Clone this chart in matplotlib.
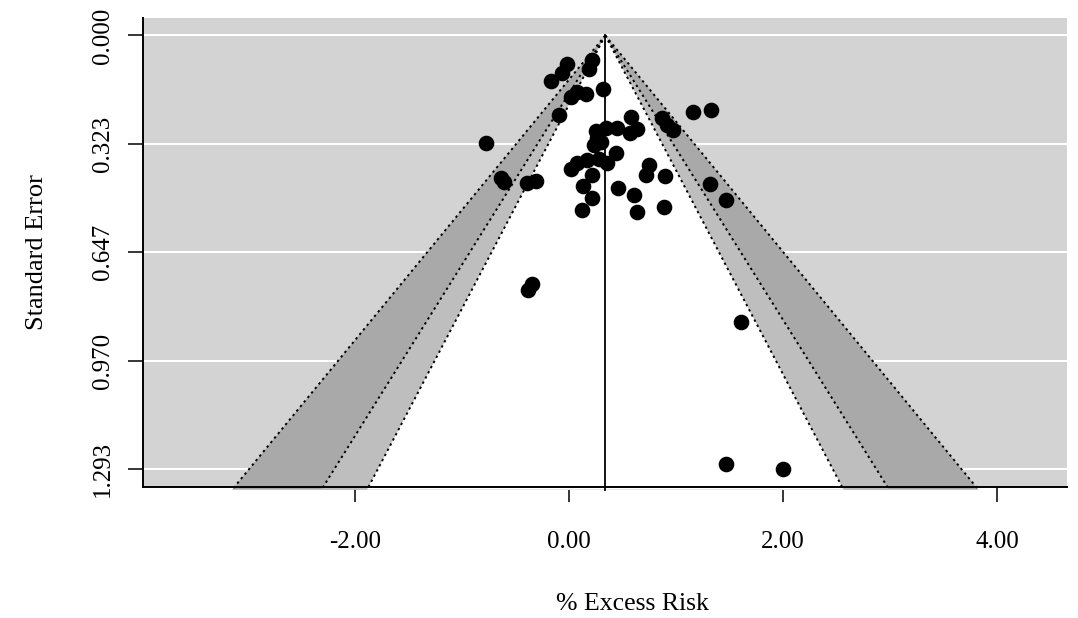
import numpy as np
import matplotlib.pyplot as plt

# effect estimates (% excess risk) and their standard errors
excess_risk = [-0.019, -0.072, -0.175, 0.215, 0.185, 0.318, 0.012, 0.068, 0.152, -0.097,
               -0.782, 0.573, 0.246, 0.339, 0.442, 0.566, 0.636, 0.869, 0.916, 0.968,
               1.159, 1.327, 0.230, 0.299, 0.262, 0.433, 0.012, 0.075, 0.168, 0.277,
               0.355, 0.215, -0.642, -0.614, -0.393, -0.315, 0.127, 0.215, 0.115, 0.454,
               0.610, 0.636, 0.744, 0.722, 0.891, 0.884, 1.314, 1.470, -0.390, -0.352,
               1.601, 1.470, 1.994]
std_err = [0.085, 0.113, 0.135, 0.074, 0.100, 0.160, 0.182, 0.170, 0.174, 0.237,
           0.321, 0.244, 0.284, 0.276, 0.276, 0.290, 0.279, 0.247, 0.267, 0.282,
           0.227, 0.222, 0.326, 0.319, 0.305, 0.351, 0.399, 0.379, 0.371, 0.369,
           0.381, 0.416, 0.424, 0.436, 0.440, 0.433, 0.448, 0.486, 0.520, 0.455,
           0.475, 0.525, 0.386, 0.416, 0.419, 0.510, 0.442, 0.490, 0.758, 0.740,
           0.853, 1.277, 1.293]
pooled = 0.337
levels_z = [2.576, 1.960, 1.645]          # 99%, 95%, 90% contours
shades = ["#A9A9A9", "#BEBEBE", "white"]
x_ticks = [-2, 0, 2, 4]
y_ticks = [0.0, 0.32325, 0.6465, 0.96975, 1.293]
y_tick_labels = ["0.000", "0.323", "0.647", "0.970", "1.293"]

plt.rcParams['font.family'] = ['Liberation Serif', 'DejaVu Serif']

fig = plt.figure(figsize=(10.78, 6.18), dpi=100)
ax = fig.add_axes([0.1329, 0.2125, 0.8568, 0.7582])

x_lo, x_hi = -3.982, 4.652
y_top, y_bot = -0.0517, 1.345
ax.set_xlim(x_lo, x_hi)
ax.set_ylim(y_bot, y_top)

ax.axhspan(y_top, y_bot, color="#D3D3D3", zorder=0)
for yt in y_ticks:
    ax.axhline(yt, color="white", lw=1.5, zorder=1)

se_end = y_bot + 0.009
for z, col in zip(levels_z, shades):
    px = [pooled, pooled - z * se_end, pooled + z * se_end]
    py = [0, se_end, se_end]
    ax.fill(px, py, color=col, lw=0, zorder=2, clip_on=False)
for z in levels_z:
    for sgn in (-1, 1):
        ax.plot([pooled, pooled + sgn * z * se_end], [0, se_end], color="black",
                ls=(0, (1.2, 1.8)), lw=1.4, zorder=3, clip_on=False)

ax.plot([pooled, pooled], [0, se_end], color="black", lw=1.3, zorder=3, clip_on=False)
ax.scatter(excess_risk, std_err, s=105, color="black", zorder=4, clip_on=False)

for side in ["top", "right"]:
    ax.spines[side].set_visible(False)
for side in ["left", "bottom"]:
    ax.spines[side].set_linewidth(1.4)
    ax.spines[side].set_zorder(5)

ax.set_xticks(x_ticks)
ax.set_xticklabels(["%.2f" % v for v in x_ticks])
ax.set_yticks(y_ticks)
ax.set_yticklabels(y_tick_labels, rotation=90, va="center")
ax.tick_params(direction="out", length=11, width=1.1, labelsize=18)
ax.tick_params(axis="x", pad=21)
ax.tick_params(axis="y", pad=10)

ax.set_xlabel("% Excess Risk", fontsize=18.5)
ax.xaxis.set_label_coords(0.53, -0.226)
ax.set_ylabel("Standard Error", fontsize=19, labelpad=32)

fig.savefig("out.png", dpi=100)
